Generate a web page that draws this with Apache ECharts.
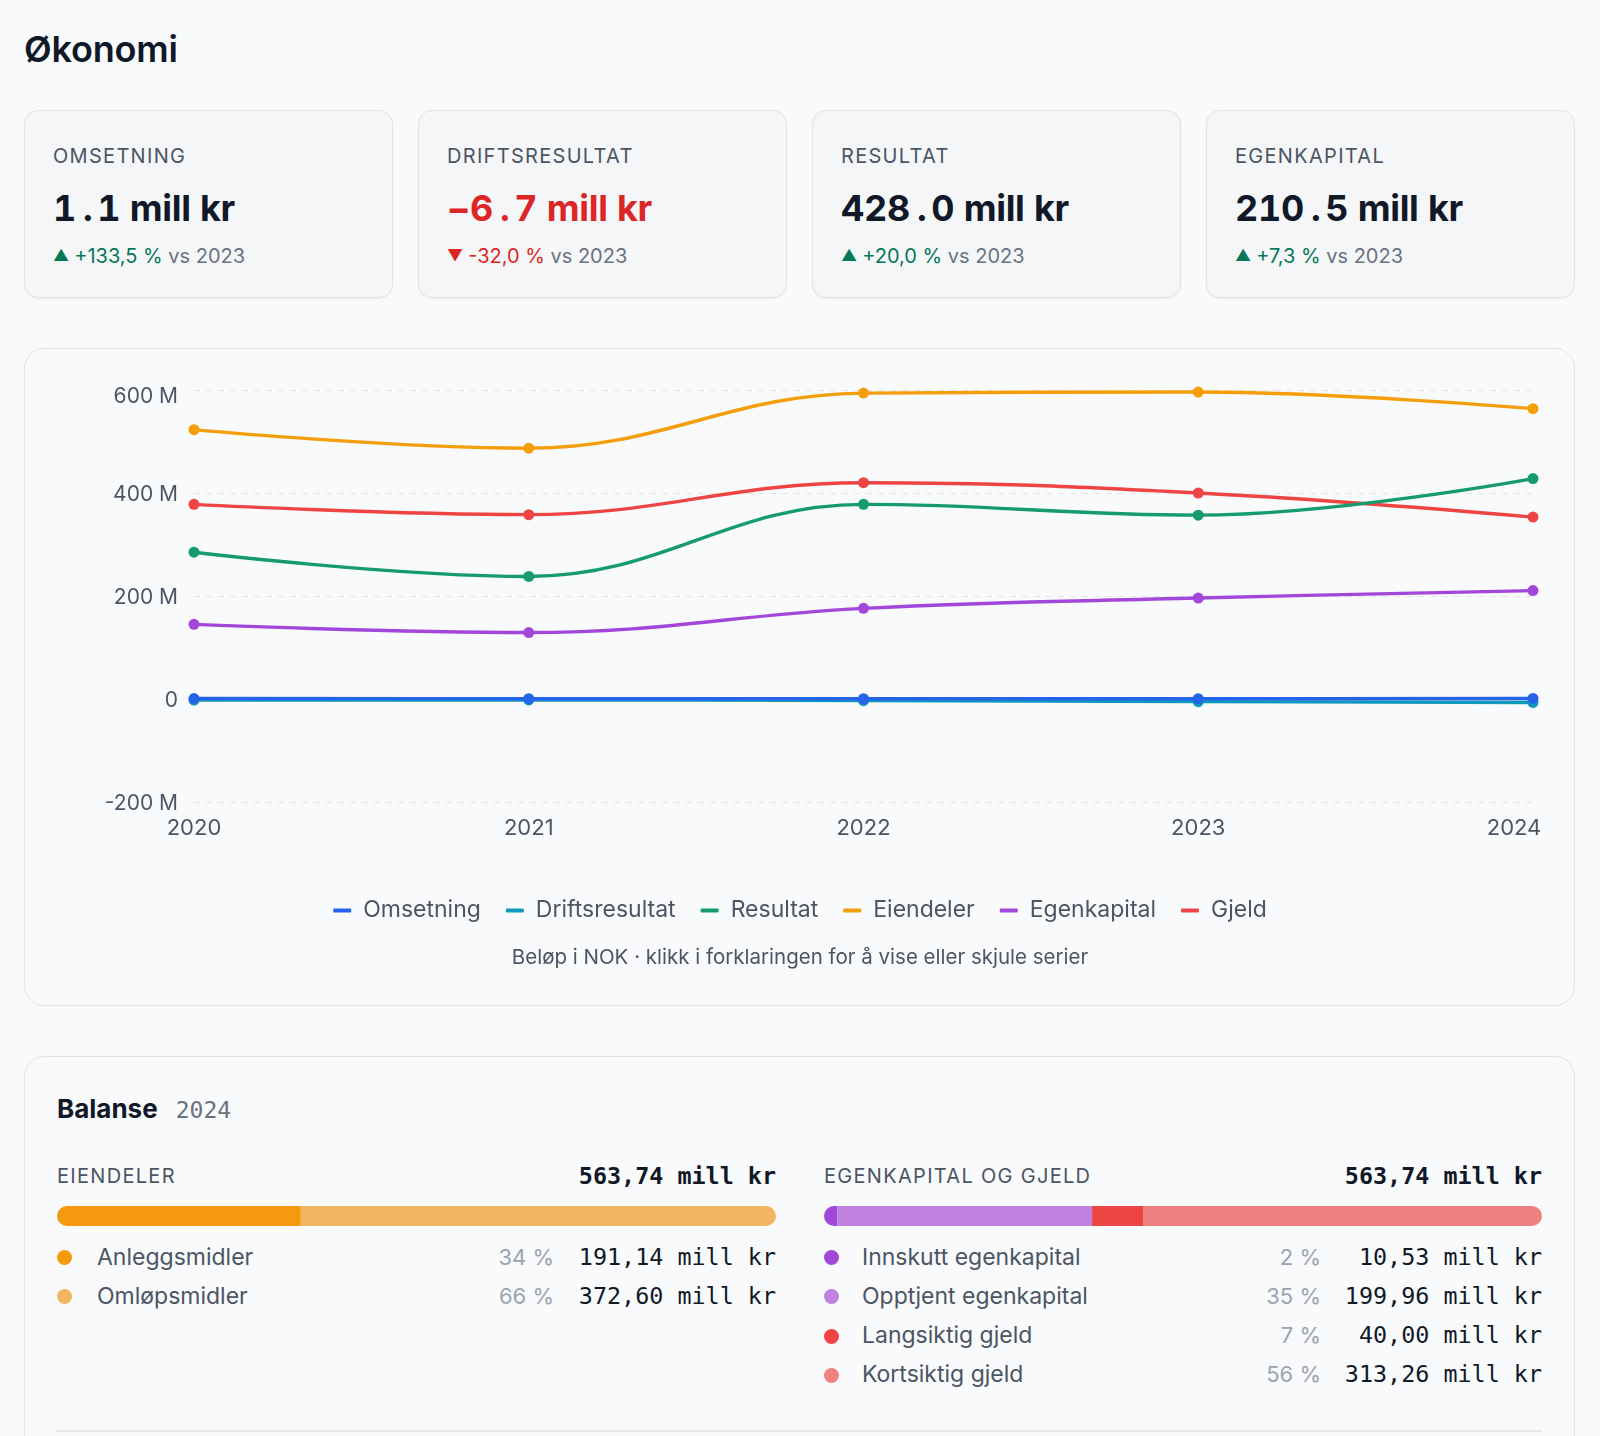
<!DOCTYPE html>
<html lang="no">
<head>
<meta charset="utf-8">
<script src="https://cdn.jsdelivr.net/npm/echarts@6/dist/echarts.min.js"></script>
<style>
  html, body { margin: 0; padding: 0; }
  body { width: 1600px; height: 1436px; background: #f9fafb; font-family: Inter, "Noto Sans", sans-serif; color: #111827; position: relative; overflow: hidden; }
  .abs { position: absolute; }
  #title { left: 24px; top: 28px; font-size: 36px; line-height: 42px; font-weight: 600; color: #111827; letter-spacing: -0.2px; }
  .kpi { position: absolute; top: 110px; width: 367px; height: 186px; border: 1.5px solid #e1e4e8; border-radius: 14px; background: #f5f6f8; box-shadow: 0 1px 2px rgba(0,0,0,0.05); }
  .kpi .lbl { position: absolute; left: 28px; top: 33px; font-size: 20px; line-height: 24px; letter-spacing: 1.3px; color: #4b5563; }
  .kpi .val { position: absolute; left: 28px; top: 75px; font-size: 36px; line-height: 44px; font-weight: 700; color: #111827; white-space: nowrap; letter-spacing: -0.3px; font-feature-settings: "tnum" 1; font-variant-numeric: tabular-nums; }
  .kpi .val .dot { display: inline-block; padding: 0 5px 0 7px; }
  .kpi .val.neg { color: #dc2626; }
  .kpi .chg { position: absolute; left: 28px; top: 132px; font-size: 20px; line-height: 26px; color: #6b7280; white-space: nowrap; }
  .up { color: #047857; }
  .down { color: #dc2626; }
  .tri { font-size: 16px; display: inline-block; margin-right: 5px; transform: translateY(-2px); }
  #chartCard { left: 24px; top: 348px; width: 1549px; height: 656px; border: 1.5px solid #e1e4e8; border-radius: 20px; background: #f9fafb; }
  #lineChart { left: 25px; top: 349px; width: 1550px; height: 600px; }
  #note { left: 24px; width: 1552px; top: 944px; text-align: center; font-size: 20.5px; line-height: 26px; color: #4b5563; }
  #balCard { left: 24px; top: 1056px; width: 1549px; height: 420px; border: 1.5px solid #e1e4e8; border-radius: 20px; background: #f9fafb; }
  #balTitle { left: 57px; top: 1093px; line-height: 32px; font-size: 26px; font-weight: 700; color: #111827; }
  #balTitle .yr { font-family: "DejaVu Sans Mono", monospace; font-weight: 400; font-size: 23px; color: #6b7280; margin-left: 18px; }
  .colHead { position: absolute; top: 1162px; height: 28px; line-height: 28px; }
  .colHead .h { position: absolute; left: 0; font-size: 20px; letter-spacing: 1.3px; color: #4b5563; }
  .colHead .t { position: absolute; right: 0; font-family: "DejaVu Sans Mono", monospace; font-weight: 700; font-size: 23.4px; color: #111827; }
  .bar { position: absolute; top: 1206px; height: 20px; }
  .row { position: absolute; height: 39.3px; line-height: 39.3px; }
  .row .d { position: absolute; left: 0; top: 12.6px; width: 15px; height: 15px; border-radius: 50%; }
  .row .n { position: absolute; font-size: 23px; color: #4b5563; white-space: nowrap; }
  .row .p { position: absolute; font-size: 22px; color: #9ca3af; text-align: right; white-space: nowrap; }
  .row .v { position: absolute; right: 0; font-family: "DejaVu Sans Mono", monospace; font-size: 23.4px; color: #111827; white-space: nowrap; }
  #sep { left: 56px; top: 1430px; width: 1486px; height: 1.5px; background: #e5e7eb; }
</style>
</head>
<body>
<div id="title" class="abs">Økonomi</div>

<div class="kpi" style="left:24px"><div class="lbl">OMSETNING</div><div class="val">1<span class="dot">.</span>1 mill kr</div><div class="chg"><span class="up"><span class="tri">▲</span>+133,5 %</span> vs 2023</div></div>
<div class="kpi" style="left:418px"><div class="lbl">DRIFTSRESULTAT</div><div class="val neg">−6<span class="dot">.</span>7 mill kr</div><div class="chg"><span class="down"><span class="tri">▼</span>-32,0 %</span> vs 2023</div></div>
<div class="kpi" style="left:812px"><div class="lbl">RESULTAT</div><div class="val">428<span class="dot">.</span>0 mill kr</div><div class="chg"><span class="up"><span class="tri">▲</span>+20,0 %</span> vs 2023</div></div>
<div class="kpi" style="left:1206px"><div class="lbl">EGENKAPITAL</div><div class="val">210<span class="dot">.</span>5 mill kr</div><div class="chg"><span class="up"><span class="tri">▲</span>+7,3 %</span> vs 2023</div></div>

<div id="chartCard" class="abs"></div>
<div id="lineChart" class="abs"></div>
<div id="note" class="abs">Beløp i NOK · klikk i forklaringen for å vise eller skjule serier</div>

<div id="balCard" class="abs"></div>
<div id="balTitle" class="abs">Balanse<span class="yr">2024</span></div>

<div class="colHead" style="left:57px;width:719px"><span class="h">EIENDELER</span><span class="t" id="assetTotal"></span></div>
<div class="colHead" style="left:824px;width:718px"><span class="h">EGENKAPITAL OG GJELD</span><span class="t" id="liabTotal"></span></div>
<div id="assetBar" class="bar" style="left:57px;width:719px"></div>
<div id="liabBar" class="bar" style="left:824px;width:718px"></div>
<div id="assetRows"></div>
<div id="liabRows"></div>
<div id="sep" class="abs"></div>

<script>
// ---- Line chart data (values in millions NOK) ----
const years = ['2020', '2021', '2022', '2023', '2024'];
const seriesNames = ['Omsetning', 'Driftsresultat', 'Resultat', 'Eiendeler', 'Egenkapital', 'Gjeld'];
const omsetning = [0.9, 0.6, 0.5, 0.47, 1.1];
const driftsresultat = [-2.1, -1.8, -3.2, -5.1, -6.7];
const resultat = [285, 238, 378, 357, 428];
const eiendeler = [523, 487, 594, 596, 563.74];
const egenkapital = [145, 129, 176, 196, 210.5];
const gjeld = [378, 358, 420, 400, 353.26];
const yTicks = [-200, 0, 200, 400, 600];

// ---- Balance 2024 ----
const balanceTotal = 563.74;
const assetLabels = ['Anleggsmidler', 'Omløpsmidler'];
const assetValues = [191.14, 372.60];
const liabLabels = ['Innskutt egenkapital', 'Opptjent egenkapital', 'Langsiktig gjeld', 'Kortsiktig gjeld'];
const liabValues = [10.53, 199.96, 40.00, 313.26];

const lineColors = ['#2563eb', '#0e98bb', '#169b6b', '#f59e0b', '#a347db', '#ef4444'];
const assetColors = ['#f59a0e', '#f2b560'];
const liabColors = ['#a347db', '#bf82e0', '#ef4444', '#f08181'];

const lineData = [omsetning, driftsresultat, resultat, eiendeler, egenkapital, gjeld];

const lc = echarts.init(document.getElementById('lineChart'), null, { renderer: 'canvas' });
lc.setOption({
  animation: false,
  textStyle: { fontFamily: 'Inter' },
  grid: { left: 169, top: 41, width: 1339, height: 412, containLabel: false },
  legend: {
    top: 545, left: 'center',
    icon: 'roundRect', itemWidth: 18, itemHeight: 4, itemGap: 25,
    textStyle: { fontSize: 23, color: '#4b5563', fontFamily: 'Inter', padding: [0, 0, 0, 7] },
    data: seriesNames
  },
  xAxis: {
    type: 'category', data: years, boundaryGap: false,
    axisLine: { show: false }, axisTick: { show: false },
    axisLabel: {
      fontSize: 22, color: '#4b5563', margin: 15,
      formatter: function (v, i) { return i === years.length - 1 ? '{last|' + v + '}' : v; },
      rich: { last: { fontSize: 22, color: '#4b5563', fontFamily: 'Inter', padding: [0, 38, 0, 0] } }
    }
  },
  yAxis: {
    type: 'value', min: yTicks[0], max: yTicks[yTicks.length - 1], interval: 200,
    axisLine: { show: false }, axisTick: { show: false },
    axisLabel: {
      fontSize: 21, color: '#4b5563', margin: 16,
      formatter: v => v === yTicks[yTicks.length - 1] ? '{top|' + v + ' M}' : (v === 0 ? '{n|0}' : '{n|' + v + ' M}'),
      rich: {
        n: { fontSize: 21, color: '#4b5563', fontFamily: 'Inter', padding: [4, 0, 0, 0] },
        top: { fontSize: 21, color: '#4b5563', fontFamily: 'Inter', padding: [14, 0, 0, 0] }
      }
    },
    splitLine: { lineStyle: { type: [6, 6], color: '#e3e5e8', width: 1.2 } }
  },
  series: seriesNames.map((n, i) => ({
    name: n, type: 'line', data: lineData[i], smooth: 0.4,
    symbol: 'circle', symbolSize: 11, showSymbol: true,
    lineStyle: { width: 3.4, color: lineColors[i] },
    itemStyle: { color: lineColors[i] },
    z: 10 - i
  })).reverse()
});

function fmt(v) { return v.toFixed(2).replace('.', ',') + ' mill kr'; }

function buildBar(id, values, colors) {
  const total = values.reduce((a, b) => a + b, 0);
  const ch = echarts.init(document.getElementById(id));
  ch.setOption({
    animation: false,
    grid: { left: 0, right: 0, top: 0, bottom: 0 },
    xAxis: { type: 'value', min: 0, max: total, show: false },
    yAxis: { type: 'category', data: ['2024'], show: false },
    series: values.map((v, i) => ({
      type: 'bar', stack: 'b', data: [v], barWidth: 20,
      itemStyle: {
        color: colors[i],
        borderRadius: i === 0 ? [10, 0, 0, 10] : (i === values.length - 1 ? [0, 10, 10, 0] : 0)
      }
    }))
  });
}

function buildRows(containerId, labels, values, colors, left, width, labelLeft, pctRight) {
  const c = document.getElementById(containerId);
  labels.forEach((l, i) => {
    const r = document.createElement('div');
    r.className = 'row';
    r.style.left = left + 'px';
    r.style.width = width + 'px';
    r.style.top = (1237.5 + i * 39.3) + 'px';
    r.innerHTML = '<span class="d" style="background:' + colors[i] + '"></span>' +
      '<span class="n" style="left:' + labelLeft + 'px">' + l + '</span>' +
      '<span class="p" style="right:' + pctRight + 'px">' + Math.round(values[i] / balanceTotal * 100) + ' %</span>' +
      '<span class="v">' + fmt(values[i]) + '</span>';
    c.appendChild(r);
  });
}

buildBar('assetBar', assetValues, assetColors);
buildBar('liabBar', liabValues, liabColors);
document.getElementById('assetTotal').textContent = fmt(balanceTotal);
document.getElementById('liabTotal').textContent = fmt(balanceTotal);
buildRows('assetRows', assetLabels, assetValues, assetColors, 57, 719, 40, 222);
buildRows('liabRows', liabLabels, liabValues, liabColors, 824, 718, 38, 221);
</script>
</body>
</html>
